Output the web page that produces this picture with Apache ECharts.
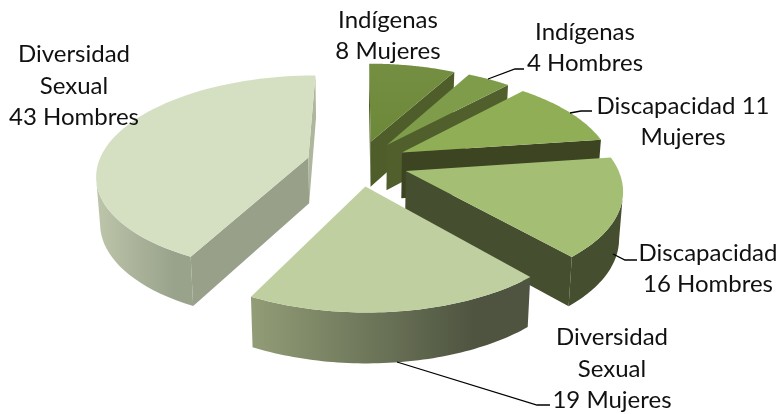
<!DOCTYPE html>
<html>
<head>
<meta charset="utf-8">
<style>html,body{margin:0;padding:0;background:#fff}#c{width:781px;height:414px}</style>
<script src="https://cdn.jsdelivr.net/npm/echarts@6/dist/echarts.min.js"></script>
</head>
<body>
<div id="c"></div>
<script>
var categories = ['Indígenas', 'Indígenas', 'Discapacidad', 'Discapacidad', 'Diversidad Sexual', 'Diversidad Sexual'];
var genders = ['Mujeres', 'Hombres', 'Mujeres', 'Hombres', 'Mujeres', 'Hombres'];
var values = [8, 4, 11, 16, 19, 43];
var explosions = [0.235, 0.235, 0.235, 0.235, 0.235, 0.25];
var topColors = [['#6c8838', '#758f42'], ['#7f9c4a', '#7f9c4a'], ['#8fae56', '#8fae56'], ['#a4bf73', '#a4bf73'], ['#bfcfa0', '#bfcfa0'], ['#d5dfc2', '#d5dfc2']];
var flatWallColors = ['#4f5d2b', '#515f2c', '#3c4421', '#454e2e', '#6c7355', '#98a089'];
var rimColors = [['#5c6c33', '#5c6c33'], ['#5c6c33', '#5c6c33'], ['#3c4421', '#3c4421'], ['#454e2e', '#454e2e'], ['#929d77', '#4e5440'], ['#bdc6aa', '#99a28b']];

// Projection of the tilted, exploded disc
var CX = 359, CY = 163, RX = 210, RY = 97, PERSP = 0.162;
var total = values.reduce(function (a, b) { return a + b; }, 0);
function project(u, v) {
  var s = 1 / (1 - PERSP * v);
  return [CX + RX * u * s, CY + RY * v * s, v];
}
function lower(p) {
  return [CX + (p[0] - CX) * 0.985, p[1] + 46 + 4 * p[2]];
}
function wall(points, fill) {
  var bottom = points.map(lower).reverse();
  return { type: 'polygon', shape: { points: points.map(function (p) { return [p[0], p[1]]; }).concat(bottom) }, style: { fill: fill } };
}
function hgrad(c) {
  return new echarts.graphic.LinearGradient(0, 0, 1, 0, [{ offset: 0, color: c[0] }, { offset: 0.8, color: c[1] }, { offset: 1, color: c[1] }]);
}
function renderSlice(params, api) {
  var i = params.dataIndex, val = api.value(0), before = 0;
  for (var k = 0; k < i; k++) before += values[k];
  var a0 = before / total * 2 * Math.PI, a1 = (before + val) / total * 2 * Math.PI, mid = (a0 + a1) / 2;
  var ou = explosions[i] * Math.sin(mid), ov = -explosions[i] * Math.cos(mid);
  var apex = project(ou, ov), rim = [], steps = 60;
  for (var j = 0; j <= steps; j++) {
    var a = a0 + (a1 - a0) * j / steps;
    rim.push(project(ou + Math.sin(a), ov - Math.cos(a)));
  }
  var children = [];
  // only walls facing the viewer: the outline runs clockwise, so those run leftwards
  if (rim[0][0] < apex[0]) children.push(wall([apex, rim[0]], flatWallColors[i]));
  if (apex[0] < rim[steps][0]) children.push(wall([rim[steps], apex], i === 5 ? '#aeb69d' : flatWallColors[i]));
  var run = [];
  for (j = 0; j < steps; j++) {
    if (rim[j + 1][0] < rim[j][0]) {
      if (!run.length) run.push(rim[j]);
      run.push(rim[j + 1]);
    }
  }
  if (run.length) children.push(wall(run, hgrad(rimColors[i])));
  var outline = [apex].concat(rim).map(function (p) { return [p[0], p[1]]; });
  children.push({ type: 'polygon', shape: { points: outline }, style: { fill: new echarts.graphic.LinearGradient(0, 1, 0, 0, [{ offset: 0, color: topColors[i][0] }, { offset: 1, color: topColors[i][1] }]) } });
  return { type: 'group', children: children };
}

var labelTexts = [
  categories[0] + '\n' + values[0] + ' ' + genders[0],
  categories[1] + '\n' + values[1] + ' ' + genders[1],
  categories[2] + ' ' + values[2] + '\n' + genders[2],
  categories[3] + '\n' + values[3] + ' ' + genders[3],
  'Diversidad\nSexual\n' + values[4] + ' ' + genders[4],
  'Diversidad\nSexual\n' + values[5] + ' ' + genders[5]
];
var labelSpots = [[388, 36], [585, 48], [683, 122], [708, 269], [612, 369], [74, 86]];
var leaders = [
  [[488, 79], [515, 69], [524, 69]],
  [[570, 113], [581, 111], [592, 111]],
  [[613, 254], [625, 260], [637, 260]],
  [[397, 362], [537, 405], [550, 405]]
];
var graphics = labelTexts.map(function (t, i) {
  return { type: 'text', x: labelSpots[i][0], y: labelSpots[i][1], z: 10,
    style: { text: t, fill: '#111', font: '24px Lato', lineHeight: 31.5, align: 'center', verticalAlign: 'middle' } };
}).concat(leaders.map(function (pts) {
  return { type: 'polyline', z: 9, shape: { points: pts }, style: { stroke: '#000', lineWidth: 1.3, fill: null } };
}));

var chart = echarts.init(document.getElementById('c'), null, { renderer: 'canvas' });
chart.setOption({
  animation: false,
  backgroundColor: '#fff',
  graphic: graphics,
  series: [{
    type: 'custom',
    coordinateSystem: 'none',
    renderItem: renderSlice,
    silent: true,
    data: values.map(function (v) { return [v]; })
  }]
});
</script>
</body>
</html>
